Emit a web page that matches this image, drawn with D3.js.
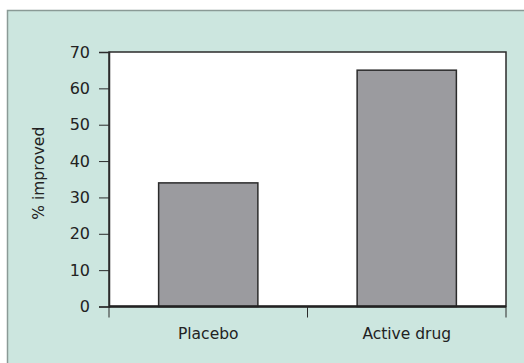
<!DOCTYPE html>
<html><head><meta charset="utf-8">
<script src="https://cdn.jsdelivr.net/npm/d3@7"></script>
<style>html,body{margin:0;padding:0;background:#fff;}svg{display:block;}</style>
</head><body>
<script>
const categories = ["Placebo", "Active drug"];
const values = [34, 65];
const yTicks = [0, 10, 20, 30, 40, 50, 60, 70];
const yLabel = "% improved";

const W = 524, H = 363;
const m = {left: 109, right: 18, top: 52, bottom: 56.5};
const svg = d3.select("body").append("svg").attr("width", W).attr("height", H);
const font = "'DejaVu Sans', sans-serif";

// panel
svg.append("rect").attr("x", 7.5).attr("y", 10.5).attr("width", W).attr("height", H)
  .attr("fill", "#cce6df").attr("stroke", "#8a9a96").attr("stroke-width", 1.5);

const x = d3.scaleBand().domain(categories).range([m.left, W - m.right])
  .paddingInner(0.5).paddingOuter(0.25);
const y = d3.scaleLinear().domain([0, 70]).range([H - m.bottom, m.top]);

// plot area
svg.append("rect").attr("x", m.left).attr("y", m.top)
  .attr("width", W - m.right - m.left).attr("height", H - m.bottom - m.top)
  .attr("fill", "#fff").attr("stroke", "#2b2b2b").attr("stroke-width", 1.5);

// bars
svg.selectAll(".bar").data(values).enter().append("rect")
  .attr("x", (d, i) => x(categories[i])).attr("width", x.bandwidth())
  .attr("y", d => y(d)).attr("height", d => y(0) - y(d))
  .attr("fill", "#9b9b9f").attr("stroke", "#2b2b2b").attr("stroke-width", 1.5);

// y axis
const ya = svg.append("g").attr("transform", `translate(${m.left},0)`)
  .call(d3.axisLeft(y).tickValues(yTicks).tickSize(10).tickPadding(9));
ya.select(".domain").attr("stroke", "#2b2b2b").attr("stroke-width", 1.5);
ya.selectAll(".tick line").attr("stroke", "#2b2b2b");
ya.selectAll("text").attr("font-family", font).attr("font-size", 16).attr("fill", "#222");

// x axis: ticks at band boundaries
const xEdges = [m.left, (m.left + W - m.right) / 2, W - m.right];
const xa = svg.append("g");
xa.append("line").attr("x1", m.left).attr("x2", W - m.right)
  .attr("y1", y(0)).attr("y2", y(0)).attr("stroke", "#222").attr("stroke-width", 2.5);
xa.selectAll(".xt").data(xEdges).enter().append("line")
  .attr("x1", d => d).attr("x2", d => d).attr("y1", y(0)).attr("y2", y(0) + 11)
  .attr("stroke", "#2b2b2b").attr("stroke-width", 1);
xa.selectAll(".xl").data(categories).enter().append("text")
  .attr("x", d => x(d) + x.bandwidth() / 2).attr("y", y(0) + 32)
  .attr("text-anchor", "middle").attr("font-family", font).attr("font-size", 15.5)
  .attr("fill", "#222").text(d => d);

// y label
svg.append("text").attr("transform", `translate(44,${(m.top + y(0)) / 2 - 6}) rotate(-90)`)
  .attr("text-anchor", "middle").attr("font-family", font).attr("font-size", 15.5)
  .attr("fill", "#222").text(yLabel);
</script>
</body></html>
